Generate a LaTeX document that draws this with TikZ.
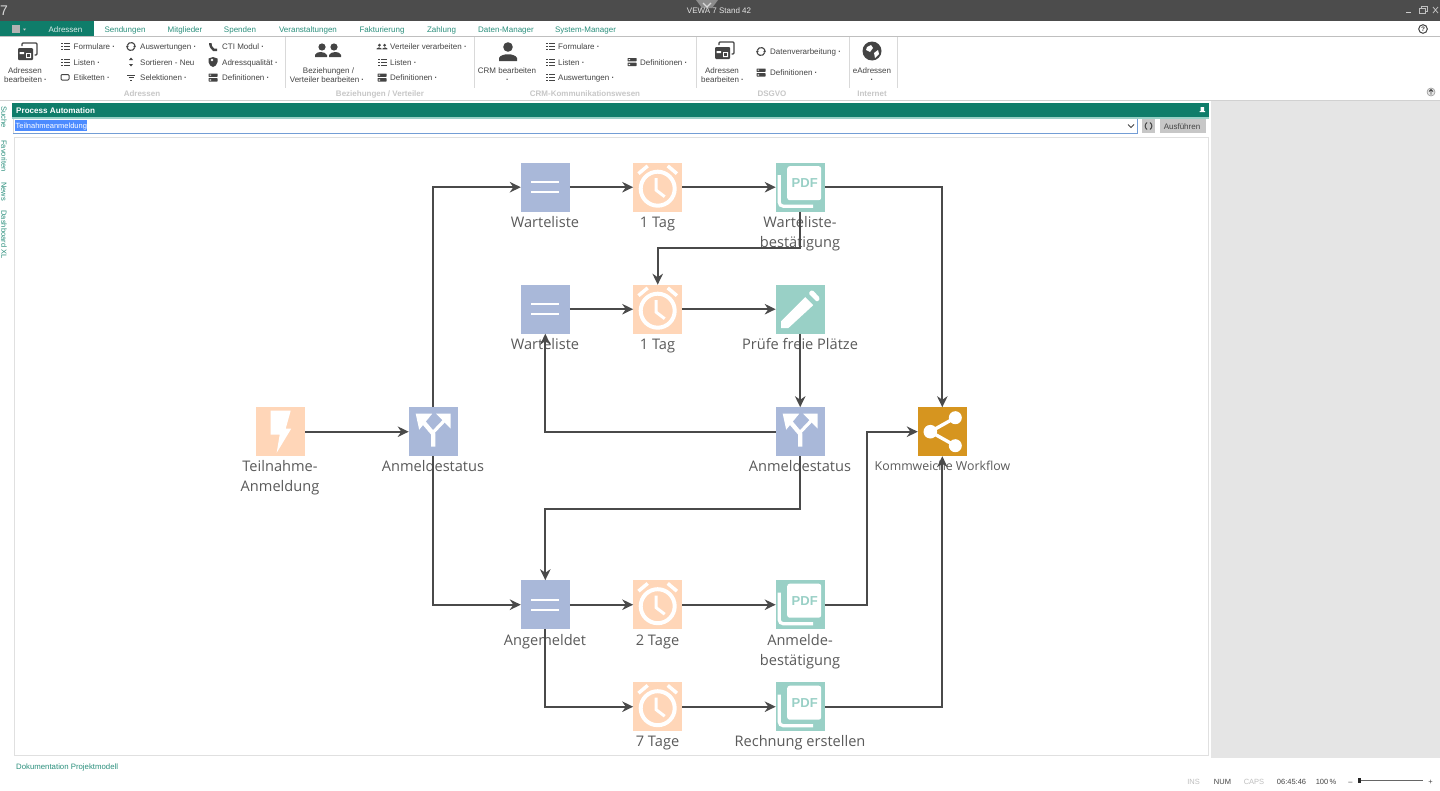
\documentclass[tikz,border=0pt]{standalone}
\usepackage{fontspec}
\setmainfont{Open Sans}
\newfontfamily\ribfont{Liberation Sans}
\usetikzlibrary{arrows.meta}
\definecolor{teal1}{HTML}{0F7D6A}
\definecolor{tabtxt}{HTML}{2A8F7C}
\definecolor{ink}{HTML}{4A4A4A}
\definecolor{lab}{HTML}{5A5A5A}
\definecolor{rib}{HTML}{444444}
\definecolor{orangeb}{HTML}{FFD6B8}
\definecolor{blueb}{HTML}{A9B8D9}
\definecolor{tealb}{HTML}{99D0C6}
\definecolor{goldb}{HTML}{D6951F}
\newcount\autoid
\newcommand{\lbl}[4][]{\global\advance\autoid by 1 \node[#1] (t\the\autoid) at (#2,#3) {#4};}
\newcommand{\dd}{ \textbf{·}}
\tikzset{
 x=1pt,y=-1pt,
 box/.style={minimum size=49pt,inner sep=0pt,outer sep=0pt,draw=none},
 obox/.style={box,fill=orangeb},
 bbox/.style={box,fill=blueb},
 tbox/.style={box,fill=tealb},
 gbox/.style={box,fill=goldb},
 nlabel/.style={font=\fontsize{14.6}{20}\selectfont,text=lab,align=center,inner sep=0pt},
 oneline/.style={nlabel,text height=11pt,text depth=0pt},
 conn/.style={draw=ink,line width=2pt,-{Stealth[length=11pt,width=10.5pt]}},
 ribl/.style={font=\ribfont\fontsize{8}{9}\selectfont,text=rib,anchor=west,inner sep=0pt,text height=6pt,text depth=0pt},
 ribc/.style={font=\ribfont\fontsize{8}{9}\selectfont,text=rib,anchor=center,inner sep=0pt,text height=6pt,text depth=0pt},
 tabl/.style={font=\ribfont\fontsize{8}{9}\selectfont,text=tabtxt,inner sep=0pt,text height=6pt,text depth=0pt},
 grp/.style={font=\ribfont\bfseries\fontsize{8}{9}\selectfont,text=black!22,inner sep=0pt,text height=6pt,text depth=0pt},
 stat/.style={font=\ribfont\fontsize{7.5}{9}\selectfont,text=rib,inner sep=0pt,text height=6pt,text depth=0pt},
 vert/.style={font=\ribfont\fontsize{7.5}{9}\selectfont,text=tabtxt,rotate=-90,inner sep=0pt},
 % --- big icons
 clock/.pic={
  \draw[white,line width=4pt] (0,1.5) circle (17);
  \draw[white,line width=3pt,line join=miter] (-1.5,-9)--(-1.5,3)--(7,9.5);
  \fill[white,rotate=-40] (-6,-24.5) rectangle (6,-21);
  \fill[white,rotate=40] (-6,-24.5) rectangle (6,-21);
 },
 pdficon/.pic={
  \fill[white,rounded corners=2.5pt] (-13,-21) rectangle (21,13);
  \draw[white,line width=3.2pt] (-21,-12)--(-21,15) arc[start angle=180,end angle=90,radius=4] -- (13,19);
  \node[font=\ribfont\bfseries\fontsize{13}{13}\selectfont,text=tealb,inner sep=0pt] (-pdf) at (4.5,-4) {PDF};
 },
 pencil/.pic={
  \fill[white] (-19,12)--(5,-12)--(13,-4)--(-12,19)--(-19,19)--cycle;
  \fill[white,rounded corners=1.5pt] (8,-16)--(12,-19.5)--(20,-11)--(17,-7)--cycle;
 },
 lines/.pic={
  \fill[white] (-14,-6) rectangle (14,-4);
  \fill[white] (-14,4) rectangle (14,6);
 },
 fork/.pic={
  \draw[white,line width=4.4pt,line join=round] (0,15)--(0,2)--(-11,-11);
  \draw[white,line width=3.2pt] (0.5,0)--(11,-11);
  \fill[white] (-17.5,-18)--(-1,-18)--(-14,-2)--cycle;
  \fill[white] (17.5,-18)--(3,-18)--(17.5,-3)--cycle;
 },
 bolt/.pic={
  \fill[white] (-10,-21)--(10,-21)--(5,-3)--(10.5,-3)--(-4,21)--(-1,3)--(-10,3)--cycle;
 },
 shareicon/.pic={
  \draw[white,line width=3.4pt] (-12,0)--(13,-14) (-12,0)--(13,14);
  \fill[white] (-12,0) circle (6.8) (13,-14) circle (6.5) (13,14) circle (6.5);
 },
 % --- small ribbon icons
 listi/.pic={
  \draw[rib,line width=1pt] (-4,-3)--(-2.5,-3) (-1,-3)--(4.5,-3) (-4,0)--(-2.5,0) (-1,0)--(4.5,0) (-4,3)--(-2.5,3) (-1,3)--(4.5,3);
 },
 defi/.pic={
  \fill[rib,rounded corners=.5pt] (-4.5,-4)rectangle(4.5,-.6) (-4.5,.6)rectangle(4.5,4);
  \fill[white] (-3.3,-3) rectangle (-2,-1.8) (-3.3,1.8) rectangle (-2,3);
 },
 cyc/.pic={
  \draw[rib,line width=1.1pt] (-3.8,-1) arc[start angle=195,end angle=345,radius=4] (3.8,1) arc[start angle=15,end angle=165,radius=4];
  \fill[rib] (3.8,-2)--(5,.6)--(2.2,.6)--cycle (-3.8,2)--(-5,-.6)--(-2.2,-.6)--cycle;
 },
 cards/.pic={
  \fill[rib,rounded corners=1pt] (-9,-3) rectangle (6,9);
  \fill[white] (-7.5,1) rectangle (-3,3) (-1,2) rectangle (4,7);
  \fill[rib] (0,3) rectangle (3,6);
  \draw[rib,line width=1.2pt,rounded corners=1pt] (-5,-5)--(-5,-8)--(10,-8)--(10,4)--(7.5,4);
 },
 people/.pic={
  \fill[rib] (-6,-3) circle (3.6) (6,-3) circle (3.6);
  \fill[rib] (-13,7)--(-13,5) .. controls (-12,1) and (-3,1) .. (-1,5)--(-1,7)--cycle;
  \fill[rib] (1,7)--(1,5) .. controls (3,1) and (12,1) .. (13,5)--(13,7)--cycle;
 },
 person/.pic={
  \fill[rib] (0,-5) circle (4.8);
  \fill[rib] (-9,9)--(-9,6) .. controls (-7,1) and (7,1) .. (9,6)--(9,9)--cycle;
 },
}
\newcommand{\ri}[3]{\pic at (#1,#2) {#3};}
\begin{document}
\begin{tikzpicture}
\useasboundingbox (0,0) rectangle (1440,790);
\fill[white] (0,0) rectangle (1440,790);
% title bar
\fill[black!70] (0,0) rectangle (1440,21);
\fill[black!45] (696,0) -- (718,0) -- (712,8) -- (702,8) -- cycle;
\draw[white!85!black,line width=1.2pt] (703,3)--(707,7)--(711,3);
\lbl[font=\ribfont\fontsize{14}{14}\selectfont,text=white!85!black,inner sep=0pt]{4}{10.5}{7}
\lbl[font=\ribfont\fontsize{8}{9}\selectfont,text=white!90!black,inner sep=0pt,text height=6pt,text depth=0pt]{719}{10.5}{VEWA 7 Stand 42}
\draw[black!20,line width=1pt] (1406,12)--(1411,12);
\draw[black!25,line width=.7pt] (1419,8) rectangle (1425,13) (1421,8)--(1421,6)--(1427,6)--(1427,11)--(1425,11);
\draw[black!25,line width=.8pt] (1433,7)--(1438,13) (1438,7)--(1433,13);
% tab bar
\fill[teal1] (0,21) rectangle (94,36);
\fill[black!30] (12,25) rectangle (20,33);
\fill[white!80!black] (23,28.5)--(26,28.5)--(24.5,30.5)--cycle;
\lbl[font=\ribfont\fontsize{8}{9}\selectfont,text=white!85!teal1,inner sep=0pt,text height=6pt,text depth=0pt]{65.5}{29.5}{Adressen}
\lbl[tabl]{125}{29.5}{Sendungen}
\lbl[tabl]{185}{29.5}{Mitglieder}
\lbl[tabl]{240}{29.5}{Spenden}
\lbl[tabl]{308}{29.5}{Veranstaltungen}
\lbl[tabl]{382}{29.5}{Fakturierung}
\lbl[tabl]{441.5}{29.5}{Zahlung}
\lbl[tabl]{506}{29.5}{Daten-Manager}
\lbl[tabl]{585.5}{29.5}{System-Manager}
\draw[rib,line width=1pt] (1423,29) circle (4.3);
\lbl[font=\ribfont\bfseries\fontsize{6.5}{7}\selectfont,text=rib,inner sep=0pt]{1423}{29}{?}
\draw[black!25,line width=.8pt] (0,36.3)--(1440,36.3);
% ribbon separators
\foreach \sx in {285,474,696,849,897} \draw[black!15,line width=.8pt] (\sx,37)--(\sx,88);
\draw[black!18,line width=1pt] (0,100.3)--(1440,100.3);
% ribbon group 1
\ri{27}{51}{cards}
\lbl[ribc]{25}{70.5}{Adressen}
\lbl[ribc]{25.5}{79.5}{bearbeiten\dd}
\ri{65}{46.5}{listi}\lbl[ribl]{73.5}{46.5}{Formulare\dd}
\ri{65}{62}{listi}\lbl[ribl]{73.5}{62}{Listen\dd}
\draw[rib,line width=1pt,rounded corners=1pt] (61,74.5) rectangle (69,80);
\lbl[ribl]{73.5}{77.5}{Etiketten\dd}
\ri{131}{46.5}{cyc}\lbl[ribl]{140}{46.5}{Auswertungen\dd}
\fill[rib] (131,57.5)--(133,60)--(129,60)--cycle (131,66.5)--(133,64)--(129,64)--cycle;
\lbl[ribl]{140}{62}{Sortieren - Neu}
\draw[rib,line width=1pt] (127,75)--(135,75) (128.5,77.5)--(133.5,77.5) (130,80)--(132,80);
\lbl[ribl]{140}{77.5}{Selektionen\dd}
\fill[rib] (209,43)--(211.5,43)--(212,46)--(214,48.5)--(217,48.5)--(217,51)--(213,51) .. controls (211,49) and (209,47) .. (209,43);
\lbl[ribl]{222}{46.5}{CTI Modul\dd}
\fill[rib] (208.5,58.5)--(213,57)--(217.5,58.5)--(217.5,62) .. controls (217,65) and (215,66.5) .. (213,67) .. controls (211,66.5) and (209,65) .. (208.5,62)--cycle;
\fill[white] (212,60) circle (1.4);
\lbl[ribl]{222}{62}{Adressqualität\dd}
\ri{213}{77.5}{defi}\lbl[ribl]{222}{77.5}{Definitionen\dd}
\lbl[grp]{142}{93}{Adressen}
% group 2
\ri{328}{50}{people}
\lbl[ribc]{328.5}{70.5}{Beziehungen /}
\lbl[ribc]{327}{79.5}{Verteiler bearbeiten\dd}
\pic[scale=.42] at (382,46.5) {people};
\lbl[ribl]{390}{46.5}{Verteiler verarbeiten\dd}
\ri{382}{62}{listi}\lbl[ribl]{390}{62}{Listen\dd}
\ri{382}{77.5}{defi}\lbl[ribl]{390}{77.5}{Definitionen\dd}
\lbl[grp]{380}{93}{Beziehungen / Verteiler}
% group 3
\ri{508}{52}{person}
\lbl[ribc]{507}{70.5}{CRM bearbeiten}
\lbl[ribc]{507.5}{79}{\textbf{·}}
\ri{550}{46.5}{listi}\lbl[ribl]{558}{46.5}{Formulare\dd}
\ri{550}{62}{listi}\lbl[ribl]{558}{62}{Listen\dd}
\ri{550}{77.5}{listi}\lbl[ribl]{558}{77.5}{Auswertungen\dd}
\ri{632}{62}{defi}\lbl[ribl]{640}{62}{Definitionen\dd}
\lbl[grp]{585}{93}{CRM-Kommunikationswesen}
% group 4
\ri{724}{50}{cards}
\lbl[ribc]{722}{70.5}{Adressen}
\lbl[ribc]{722.5}{79.5}{bearbeiten\dd}
\ri{761}{51.5}{cyc}\lbl[ribl]{770}{51.5}{Datenverarbeitung\dd}
\ri{761}{72.5}{defi}\lbl[ribl]{770}{72.5}{Definitionen\dd}
\lbl[grp]{772}{93}{DSGVO}
% group 5
\fill[rib] (872,51) circle (9.5);
\fill[white] (867,47)--(871,45)--(873,48)--(870,52)--(866,50)--cycle (874,53)--(878,50)--(879,54)--(875,58)--cycle;
\lbl[ribc]{872}{70.5}{eAdressen}
\lbl[ribc]{872}{79}{\textbf{·}}
\lbl[grp]{872}{93}{Internet}
\draw[black!40,fill=black!10,line width=.6pt] (1431,92) circle (4);
\draw[rib,line width=.8pt] (1431,94.5)--(1431,90) (1429,91.5)--(1431,89.5)--(1433,91.5);
% side panel
\fill[black!10] (1211,101) rectangle (1440,758);
% process header
\fill[teal1] (12,103) rectangle (1209,117);
\fill[tealb] (12,117) rectangle (1209,118.5);
\lbl[font=\ribfont\bfseries\fontsize{8.1}{9}\selectfont,text=white,anchor=west,inner sep=0pt,text height=6pt,text depth=0pt]{16}{110.5}{Process Automation}
\fill[white] (1200.5,107)rectangle(1204,111) (1199.5,111) rectangle (1205,112);
% input
\draw[black!15,line width=.6pt] (13,133) -- (13,119);
\draw[blue!40!teal!55,line width=.9pt] (13,133)--(1137,133)--(1137,119);
\fill[blue!65!cyan!70] (15,119.5) rectangle (87,130.5);
\lbl[font=\ribfont\fontsize{7.5}{9}\selectfont,text=white,anchor=west,inner sep=0pt,text height=6pt,text depth=0pt]{15.5}{125}{Teilnahmeanmeldung}
\draw[rib,line width=1pt] (1128,124.5)--(1131,127.5)--(1134,124.5);
\fill[black!22] (1142,119) rectangle (1155,133);
\draw[rib,line width=1pt] (1147,122.5) .. controls (1144.5,124.5) and (1144.5,127.5) .. (1147,129.5) (1150,122.5) .. controls (1152.5,124.5) and (1152.5,127.5) .. (1150,129.5);
\fill[black!22] (1160,119) rectangle (1206,133);
\lbl[ribc]{1182}{126}{Ausführen}
% vertical tabs
\lbl[vert]{4}{117}{Suche}
\lbl[vert]{4}{156}{Favoriten}
\lbl[vert]{4}{191.5}{News}
\lbl[vert]{4}{234.5}{Dashboard XL}
% canvas frame
\draw[black!12,line width=.9pt] (14,137) rectangle (1208,755);
% footer
\lbl[font=\ribfont\fontsize{7.8}{9}\selectfont,text=tabtxt,anchor=west,inner sep=0pt,text height=6pt,text depth=0pt]{16}{766}{Dokumentation Projektmodell}
\lbl[stat,text=black!25]{1193.5}{781}{INS}
\lbl[stat]{1222.5}{781}{NUM}
\lbl[stat,text=black!25]{1254}{781}{CAPS}
\lbl[stat]{1291.5}{781}{06:45:46}
\lbl[stat]{1326}{781}{100\,\%}
\lbl[stat]{1350.5}{781}{–}
\lbl[stat]{1430.5}{781}{+}
\draw[black!60,line width=.9pt] (1359,780.5)--(1423,780.5);
\fill[black!85] (1358,778) rectangle (1360.5,783);
% === diagram nodes ===
\node[bbox] (w1) at (545.3,187.2) {};
\node[obox] (c1) at (657.7,187.2) {};
\node[tbox] (p1) at (800.2,187.2) {};
\node[bbox] (w2) at (545.3,309.2) {};
\node[obox] (c2) at (657.7,309.2) {};
\node[tbox] (ed) at (800.2,309.2) {};
\node[obox] (tr) at (280.7,431.7) {};
\node[bbox] (s1) at (433.2,431.7) {};
\node[bbox] (s2) at (800.2,431.7) {};
\node[gbox] (wf) at (942.3,431.7) {};
\node[bbox] (an) at (545.3,604.7) {};
\node[obox] (c3) at (657.7,604.7) {};
\node[tbox] (p3) at (800.2,604.7) {};
\node[obox] (c4) at (657.7,706.7) {};
\node[tbox] (p4) at (800.2,706.7) {};
\pic at (w1) {lines}; \pic at (c1) {clock}; \pic at (p1) {pdficon};
\pic at (w2) {lines}; \pic at (c2) {clock}; \pic at (ed) {pencil};
\pic at (tr) {bolt}; \pic at (s1) {fork}; \pic at (s2) {fork}; \pic at (wf) {shareicon};
\pic at (an) {lines}; \pic at (c3) {clock}; \pic at (p3) {pdficon};
\pic at (c4) {clock}; \pic at (p4) {pdficon};
% labels
\node[oneline] (lw1) at (545,222) {Warteliste};
\node[oneline] (lc1) at (657.5,222) {1 Tag};
\node[nlabel] (lp1) at (800,234) {Warteliste-\\bestätigung};
\node[oneline] (lw2) at (545,344) {Warteliste};
\node[oneline] (lc2) at (657.5,344) {1 Tag};
\node[oneline] (led) at (800,344) {Prüfe freie Plätze};
\node[nlabel] (ltr) at (280,478) {Teilnahme-\\Anmeldung};
\node[oneline] (ls1) at (433,466) {Anmeldestatus};
\node[oneline] (ls2) at (800,466) {Anmeldestatus};
\node[oneline,font=\fontsize{12.35}{16}\selectfont] (lwf) at (942.5,464.5) {Kommweiche Workflow};
\node[oneline] (lan) at (545,639.5) {Angemeldet};
\node[oneline] (lc3) at (657.5,639.5) {2 Tage};
\node[nlabel] (lp3) at (800,651.5) {Anmelde-\\bestätigung};
\node[oneline] (lc4) at (657.5,741) {7 Tage};
\node[oneline] (lp4) at (800,741) {Rechnung erstellen};
% connectors
\draw[conn] (tr)--(s1);
\draw[conn] (s1.north)|-(w1.west);
\draw[conn] (s1.south)|-(an.west);
\draw[conn] (w1)--(c1);
\draw[conn] (c1)--(p1);
\draw[conn] (p1.east)-|(wf.north);
\coordinate (b1) at (800.2,248);
\coordinate (b2) at (657.7,248);
\draw[conn] (p1.south)--(b1)--(b2)--(c2.north);
\draw[conn] (w2)--(c2);
\draw[conn] (c2)--(ed);
\draw[conn] (ed)--(s2);
\draw[conn] (s2.west)-|(w2.south);
\coordinate (b3) at (800.2,509);
\coordinate (b4) at (545.3,509);
\draw[conn] (s2.south)--(b3)--(b4)--(an.north);
\draw[conn] (an)--(c3);
\draw[conn] (c3)--(p3);
\coordinate (b5) at (867,604.7);
\coordinate (b6) at (867,431.7);
\draw[conn] (p3.east)--(b5)--(b6)--(wf.west);
\draw[conn] (an.south)|-(c4.west);
\draw[conn] (c4)--(p4);
\draw[conn] (p4.east)-|(wf.south);
\end{tikzpicture}
\end{document}
